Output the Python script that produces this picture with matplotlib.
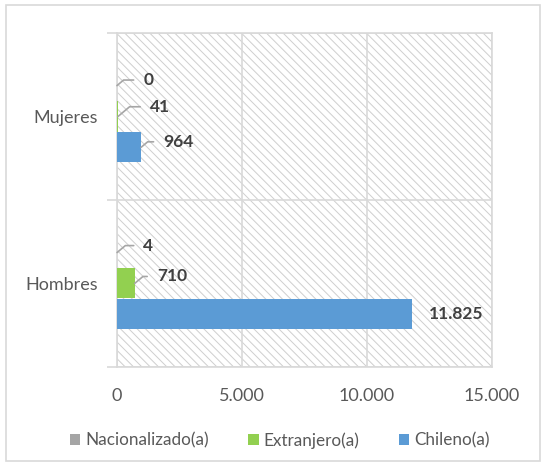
import numpy as np
import matplotlib.pyplot as plt
from matplotlib.patches import Rectangle

categories = ["Hombres", "Mujeres"]
series_names = ["Nacionalizado(a)", "Extranjero(a)", "Chileno(a)"]
nacionalizado = [4, 0]
extranjero = [710, 41]
chileno = [11825, 964]
x_ticks = [0, 5000, 10000, 15000]

colors = ["#A5A5A5", "#92D050", "#5B9BD5"]
# label offsets in points (dx, dy) and whether a leader line is drawn
label_offsets = {
    "Nacionalizado(a)": [(19, 5), (19, 4)],
    "Extranjero(a)": [(16, 5), (23, 7)],
    "Chileno(a)": [(12, 0), (16, 4)],
}
leader = {
    "Nacionalizado(a)": [True, True],
    "Extranjero(a)": [True, True],
    "Chileno(a)": [False, True],
}


def fmt(v):
    return f"{v:,}".replace(",", ".")


def main():
    plt.rcParams['font.family'] = ['Lato', 'DejaVu Sans']
    fig = plt.figure(figsize=(5.44, 4.65), dpi=100)
    ax = fig.add_axes([0.215, 0.211, 0.689, 0.718])

    fig.patches.append(Rectangle((6 / 544, 4 / 465), 534 / 544, 456 / 465,
                                 transform=fig.transFigure, fill=False,
                                 edgecolor="#D9D9D9", lw=1.2))

    # hatched plot area
    plt.rcParams['hatch.linewidth'] = 0.7
    ax.add_patch(Rectangle((0, 0), 1, 1, transform=ax.transAxes,
                           facecolor="white", edgecolor="#CFCFCF",
                           hatch="\\\\\\\\", lw=0, zorder=0))

    y = np.arange(len(categories))
    h = 0.18
    offs = [0.185, 0.0, -0.185]
    data = [nacionalizado, extranjero, chileno]
    for name, vals, c, o in zip(series_names, data, colors, offs):
        ax.barh(y + o, vals, height=h, color=c, label=name, zorder=3)
        for i, v in enumerate(vals):
            dx, dy = label_offsets[name][i]
            ap = None
            if leader[name][i]:
                ap = dict(arrowstyle="-", color="#A6A6A6", lw=1.2,
                          shrinkA=5, shrinkB=0, relpos=(0, 0.5),
                          connectionstyle="angle,angleA=0,angleB=40,rad=0")
            ax.annotate(fmt(v), xy=(v, y[i] + o), xytext=(dx, dy),
                        textcoords="offset points", ha="left", va="center",
                        fontsize=12.5, fontweight="bold", color="#404040",
                        arrowprops=ap, zorder=5)

    ax.set_xlim(0, 15000)
    ax.set_ylim(-0.5, 1.5)
    ax.set_xticks(x_ticks)
    ax.set_xticklabels([fmt(t) for t in x_ticks])
    ax.set_yticks(y)
    ax.set_yticklabels(categories)
    ax.set_yticks([-0.5, 0.5, 1.5], minor=True)
    ax.tick_params(axis="x", length=0, labelsize=13, labelcolor="#595959", pad=15)
    ax.tick_params(axis="y", which="major", length=0, labelsize=13,
                   labelcolor="#595959", pad=14)
    ax.tick_params(axis="y", which="minor", length=7, color="#D9D9D9", width=1.2)
    ax.grid(axis="x", color="#D9D9D9", lw=1.2, zorder=1)
    ax.grid(axis="y", which="minor", color="#D9D9D9", lw=1.2, zorder=1)
    for s in ax.spines.values():
        s.set_color("#D9D9D9")
        s.set_linewidth(1.2)
    ax.set_axisbelow(True)

    ax.legend(loc="upper center", bbox_to_anchor=(0.435, -0.15), ncol=3,
              frameon=False, fontsize=12.3, labelcolor="#595959",
              handlelength=0.6, handleheight=0.6, handletextpad=0.3,
              columnspacing=2.3)

    fig.savefig("out.png", dpi=100)


if __name__ == "__main__":
    main()
